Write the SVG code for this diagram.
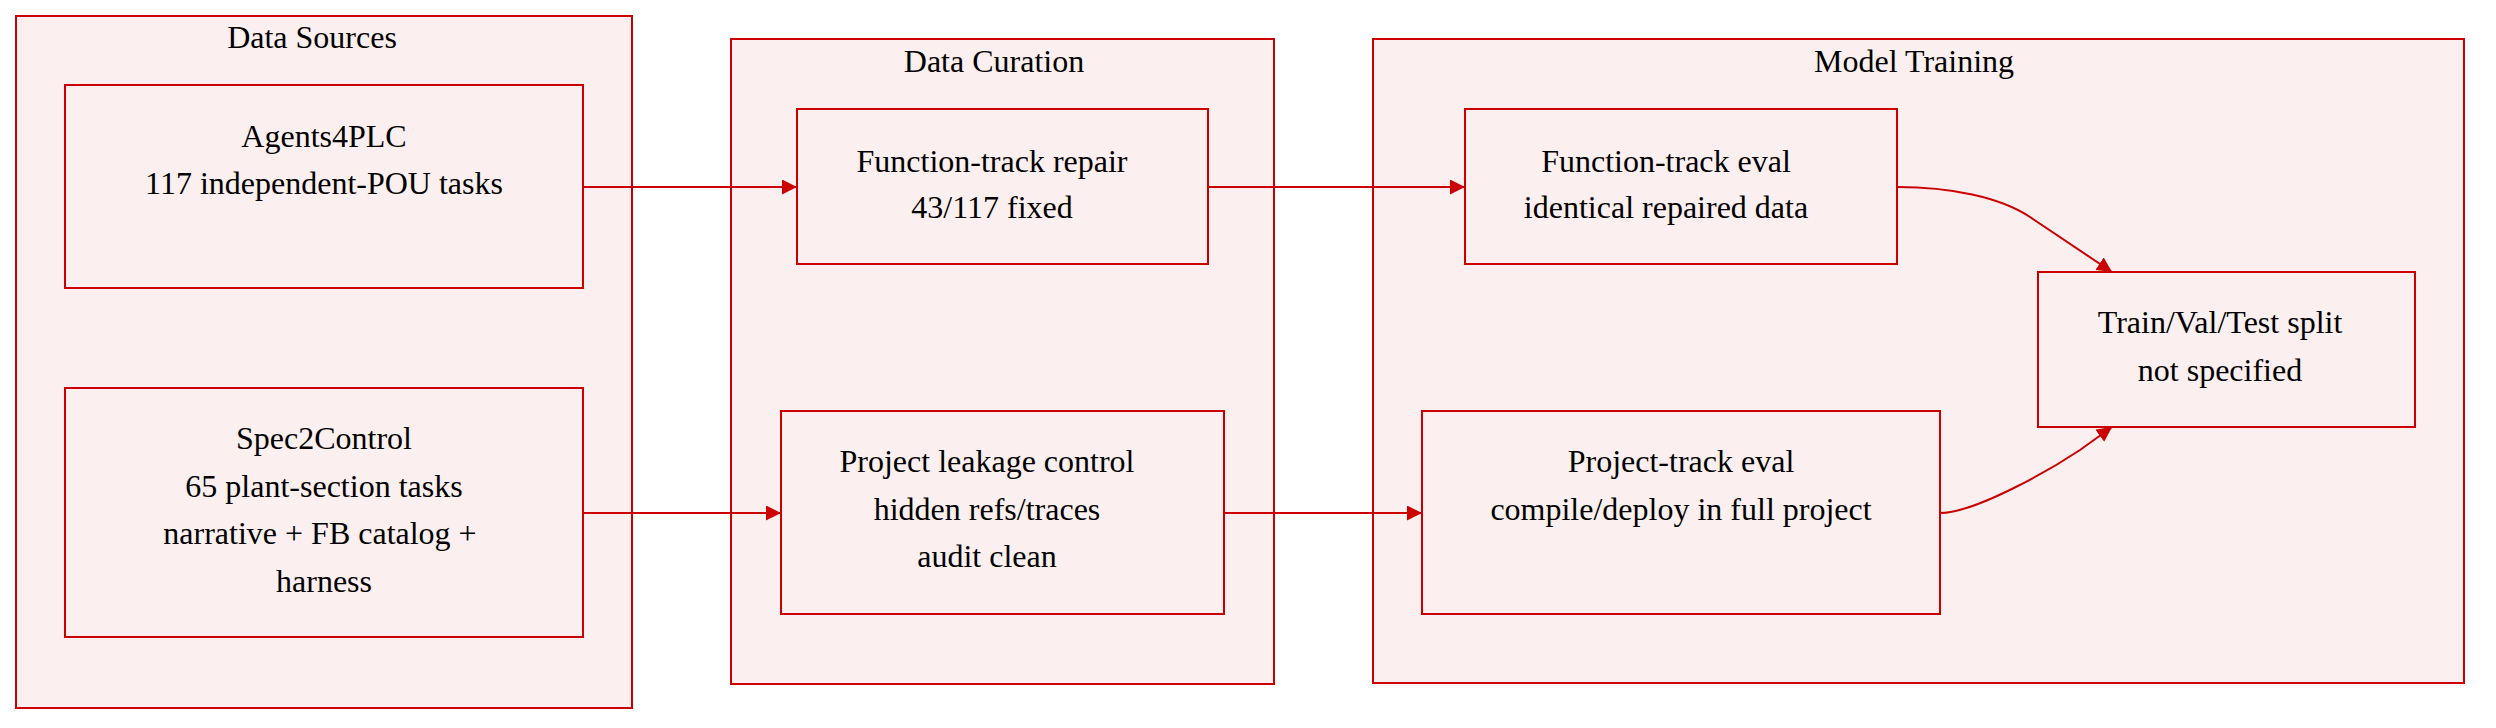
<svg xmlns="http://www.w3.org/2000/svg" width="2496" height="728" viewBox="0 0 2496 728">
<style>
.cluster{fill:#fcefef;stroke:#cc0000;stroke-width:2}
.node{fill:#fcefef;stroke:#cc0000;stroke-width:2}
.edge{fill:none;stroke:#cc0000;stroke-width:2}
text{font-family:"Liberation Serif","Times New Roman",serif;font-size:32px;fill:#000;text-anchor:middle}
</style>
<defs>
<marker id="arrow" viewBox="0 0 10 10" refX="10" refY="5" markerWidth="15" markerHeight="15" markerUnits="userSpaceOnUse" orient="auto">
<path d="M0,0 L10,5 L0,10 z" fill="#cc0000"/>
</marker>
</defs>
<rect width="2496" height="728" fill="#ffffff"/>
<g id="cluster-data-sources">
<rect class="cluster" x="16" y="16" width="616" height="692"/>
<text x="312" y="48">Data Sources</text>
</g>
<g id="cluster-data-curation">
<rect class="cluster" x="731" y="39" width="543" height="645"/>
<text x="994" y="72">Data Curation</text>
</g>
<g id="cluster-model-training">
<rect class="cluster" x="1373" y="39" width="1091" height="644"/>
<text x="1914" y="72">Model Training</text>
</g>
<g id="node-agents4plc">
<rect class="node" x="65" y="85" width="518" height="203"/>
<text x="324" y="147">Agents4PLC</text>
<text x="324" y="194">117 independent-POU tasks</text>
</g>
<g id="node-spec2control">
<rect class="node" x="65" y="388" width="518" height="249"/>
<text x="324" y="449">Spec2Control</text>
<text x="324" y="497">65 plant-section tasks</text>
<text x="320" y="544">narrative + FB catalog +</text>
<text x="324" y="592">harness</text>
</g>
<g id="node-function-repair">
<rect class="node" x="797" y="109" width="411" height="155"/>
<text x="992" y="172">Function-track repair</text>
<text x="992" y="218">43/117 fixed</text>
</g>
<g id="node-project-leakage">
<rect class="node" x="781" y="411" width="443" height="203"/>
<text x="987" y="472">Project leakage control</text>
<text x="987" y="520">hidden refs/traces</text>
<text x="987" y="567">audit clean</text>
</g>
<g id="node-function-eval">
<rect class="node" x="1465" y="109" width="432" height="155"/>
<text x="1666" y="172">Function-track eval</text>
<text x="1666" y="218">identical repaired data</text>
</g>
<g id="node-project-eval">
<rect class="node" x="1422" y="411" width="518" height="203"/>
<text x="1681" y="472">Project-track eval</text>
<text x="1681" y="520">compile/deploy in full project</text>
</g>
<g id="node-split">
<rect class="node" x="2038" y="272" width="377" height="155"/>
<text x="2220" y="333">Train/Val/Test split</text>
<text x="2220" y="381">not specified</text>
</g>
<g id="connectors">
<path class="edge" d="M583,187 L797,187" marker-end="url(#arrow)"/>
<path class="edge" d="M1208,187 L1465,187" marker-end="url(#arrow)"/>
<path class="edge" d="M583,513 L781,513" marker-end="url(#arrow)"/>
<path class="edge" d="M1224,513 L1422,513" marker-end="url(#arrow)"/>
<path class="edge" d="M1897,187 C1950,187 2000,197 2030,217 L2112,272" marker-end="url(#arrow)"/>
<path class="edge" d="M1940,513 C1975,513 2050,470 2080,450 L2112,427" marker-end="url(#arrow)"/>
</g>
</svg>
